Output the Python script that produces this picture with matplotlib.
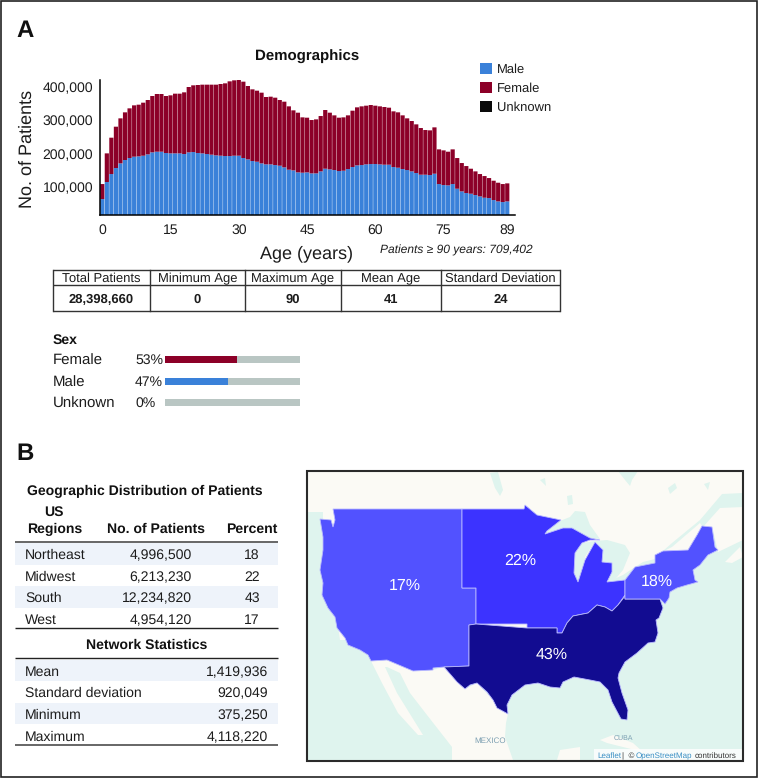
import matplotlib
matplotlib.use("Agg")
import matplotlib.pyplot as plt
import numpy as np
from matplotlib.patches import Polygon, Rectangle
from matplotlib.ticker import FuncFormatter

plt.rcParams['font.family'] = ['Liberation Sans', 'DejaVu Sans']
plt.rcParams['text.hinting'] = 'no_hinting'
plt.rcParams['text.hinting_factor'] = 1

# age histogram (thousands of patients)
total_k = [109,201,248,281,306,324,336,345,347,353,361,373,379,379,373,375,380,380,384,400,
           405,406,407,407,407,407,409,411,417,420,421,416,403,393,389,383,370,371,368,361,
           356,342,330,323,309,308,301,303,313,331,323,315,308,309,315,329,339,342,344,346,
           344,342,340,338,327,324,315,306,298,288,277,271,270,279,213,210,206,213,187,172,
           163,155,147,139,133,127,119,113,109,111]
male_k = [64,115,139,157,171,181,187,191,192,194,198,204,206,206,202,201,201,201,199,204,
          205,202,201,199,197,195,194,193,193,194,194,187,183,178,176,171,168,168,166,164,
          159,152,150,144,143,144,141,141,147,155,153,151,148,149,154,160,165,166,168,169,
          169,168,167,167,160,158,154,151,147,142,137,137,136,140,109,106,105,109,95,87,
          82,80,76,72,68,67,61,57,55,57]
y_ticks = [100000, 200000, 300000, 400000]
x_ticks = [0, 15, 30, 45, 60, 75, 89]

legend_names = ['Male', 'Female', 'Unknown']
summary_head = ['Total Patients', 'Minimum Age', 'Maximum Age', 'Mean Age', 'Standard Deviation']
summary_vals = ['28,398,660', '0', '90', '41', '24']
sex_names = ['Female', 'Male', 'Unknown']
sex_pct = [53, 47, 0]

regions = ['Northeast', 'Midwest', 'South', 'West']
region_pts = ['4,996,500', '6,213,230', '12,234,820', '4,954,120']
region_pct = ['18', '22', '43', '17']
stat_names = ['Mean', 'Standard deviation', 'Minimum', 'Maximum']
stat_vals = ['1,419,936', '920,049', '375,250', '4,118,220']

# map outlines in image pixels
west = [(333,509),(462,509),(462,588),(476,588),(476,624),(469,625),(469,666),(444,667),(433,668),(433,670),
        (413,671),(387,660),(371,661),(368,655),(360,650),(348,645),(345,638),(337,628),(335,617),(328,608),
        (322,595),(323,583),(320,570),(323,550),(323,537),(320,519),(331,520),(333,527),(335,520)]
midwest = [(462,509),(524,509),(525,505),(537,515),(561,520),(547,531),(545,534),(563,528),(572,528),(590,538),
           (600,540),(590,540),(582,543),(575,553),(574,573),(578,582),(585,560),(595,542),(603,550),(602,562),
           (612,563),(612,572),(607,582),(625,580),(625,595),(618,605),(612,611),(605,607),(597,605),(588,613),
           (573,616),(567,623),(562,633),(557,633),(557,628),(527,628),(527,624),(476,624),(476,588),(462,588)]
south = [(469,625),(476,624),(527,628),(557,628),(557,633),(562,633),(567,623),(573,616),(588,613),(597,605),
         (605,607),(612,611),(618,605),(625,596),(625,599),(660,599),(663,608),(659,618),(656,620),(658,633),
         (655,642),(648,643),(637,653),(625,662),(619,673),(618,678),(622,693),(628,710),(627,720),(621,719),
         (612,702),(608,690),(600,682),(590,680),(574,677),(563,682),(560,688),(550,687),(538,683),(525,685),
         (512,695),(507,705),(508,714),(497,708),(493,700),(487,692),(477,683),(470,685),(465,689),(457,682),
         (444,667),(469,666)]
northeast = [(625,580),(635,567),(655,563),(655,555),(663,551),(688,550),(697,535),(702,526),(712,527),(715,547),
             (718,550),(708,555),(700,565),(693,570),(695,580),(698,582),(687,585),(677,588),(670,592),(669,598),
             (665,604),(660,599),(625,599)]
canada = [(307,471),(743,471),(743,493),(722,494),(700,520),(672,543),(655,558),(640,600),(480,640),(340,640),
          (323,520),(323,512),(307,512)]
south_shore = [(660,553),(672,547),(700,523),(703,527),(697,537),(688,552)]
brunswick = [(703,527),(720,508),(743,507),(743,540),(718,552),(713,530)]
nova_scotia = [(725,562),(740,547),(743,557),(732,563)]
mexico = [(371,661),(387,660),(413,671),(433,670),(444,667),(465,689),(477,683),(493,700),(508,714),(506,723),
          (505,737),(513,760),(452,760),(452,747),(427,715),(410,693),(400,673),(387,667),(385,667),(397,693),
          (423,735),(418,735),(398,713),(382,683)]
yucatan = [(557,760),(560,750),(580,747),(580,760)]
cuba = [(600,740),(613,735),(633,743),(643,752),(623,747),(607,743)]
superior = [(545,534),(550,525),(570,517),(575,511),(585,512),(590,525),(600,539),(590,538),(572,528),(563,528)]
michigan = [(575,553),(582,543),(595,541),(585,557),(583,575),(578,582),(574,573)]
huron = [(595,541),(607,540),(625,545),(630,553),(623,570),(612,583),(607,582),(612,572),(612,563),(602,562),(603,550)]
erie = [(607,582),(623,575),(635,567),(625,580),(608,584)]
ontario = [(635,567),(643,562),(655,559),(655,563),(637,568)]
winnipeg = [(490,473),(498,472),(503,490),(500,496),(495,488)]
nipigon = [(567,496),(572,495),(573,504),(568,505)]
james_bay = [(618,471),(638,471),(632,480),(630,486),(625,480)]
small_lakes = [[(668,488),(675,483),(677,488),(670,494)], [(704,484),(710,482),(708,490)], [(540,480),(545,478),(546,486)]]

BLUE = '#3a81d9'
RED = '#8c0028'
GRAY = '#b9c6c3'
INK = '#1c1c1c'
W, H = 758, 778

fig = plt.figure(figsize=(W / 100, H / 100), dpi=100, facecolor='white')

# whole figure axes in image pixels, for tables and the map
bg = fig.add_axes([0, 0, 1, 1])
bg.set_xlim(0, W)
bg.set_ylim(H, 0)
bg.axis('off')


def put(x, y, s, size=10, weight='normal', ha='left', color=INK, **kw):
    kw.setdefault('va', 'center_baseline')
    bg.text(x, y, s, fontsize=size, fontweight=weight, ha=ha, color=color, **kw)


def rule(x0, x1, y, lw=1.0, color='#222222'):
    bg.plot([x0, x1], [y, y], color=color, lw=lw, solid_capstyle='butt')


# frame round the whole panel
bg.add_patch(Rectangle((0.7, 0.7), W - 1.4, H - 2, fill=False, ec='#222222', lw=1.2))

put(16, 28, 'A', 17, 'bold', color='#111111')
put(16, 451, 'B', 17, 'bold', color='#111111')

# histogram
ax = fig.add_axes([100 / W, 1 - 215 / H, 415 / W, 135 / H])
ax.patch.set_visible(False)
age = np.arange(len(total_k))
male = np.array(male_k) * 1000
female = (np.array(total_k) - np.array(male_k)) * 1000
ax.bar(age, male, width=0.92, color=BLUE, linewidth=0, snap=False)
ax.bar(age, female, width=0.92, bottom=male, color=RED, linewidth=0, snap=False)
ax.set_xlim(-0.5, 90.7)
ax.set_ylim(16200, 421000)
ax.set_xticks(x_ticks)
ax.set_yticks(y_ticks)
ax.yaxis.set_major_formatter(FuncFormatter(lambda v, p: f'{v:,.0f}'))
ax.tick_params(length=0, labelsize=10.4, labelcolor=INK, pad=5)
ax.tick_params(axis='x', pad=6)
ax.spines['top'].set_visible(False)
ax.spines['right'].set_visible(False)
ax.spines['left'].set_linewidth(1.1)
ax.spines['bottom'].set_linewidth(1.1)

put(307, 55, 'Demographics', 11, 'bold', ha='center', color='#111111')
put(27, 148.5, 'No. of Patients', 13.3, rotation=90, ha='center', va='center')
put(307, 252, 'Age (years)', 13.3, ha='center')
put(380, 249, 'Patients \u2265 90 years: 709,402', 8.7, style='italic')

for name, col, y in zip(legend_names, [BLUE, RED, '#0a0a0a'], [68.5, 87.5, 106.5]):
    bg.add_patch(Rectangle((480, y - 5.5), 11.5, 11, color=col, lw=0))
    put(497, y, name, 9.4)

# summary table
col_x = [53, 150, 245, 341, 441, 560]
for x in col_x:
    bg.plot([x, x], [270, 311], color='#333333', lw=1.0)
for y in [270, 285, 311]:
    rule(53, 560, y, 1.0, '#333333')
for i in range(len(summary_head)):
    mid = (col_x[i] + col_x[i + 1]) / 2
    put(mid, 277.5, summary_head[i], 9.4, ha='center')
    put(mid, 298, summary_vals[i], 9.4, 'bold', ha='center')

# sex bars
put(53, 339, 'Sex', 10, 'bold', color='#111111')
for name, pct, col, y in zip(sex_names, sex_pct, [RED, BLUE, GRAY], [359, 381, 402]):
    put(53, y, name, 10.6)
    put(135, y, f'{pct}%', 10.2)
    bg.add_patch(Rectangle((165, y - 3.5), 135, 7, color=GRAY, lw=0))
    bg.add_patch(Rectangle((165, y - 3.5), 135 * pct / 100, 7, color=col, lw=0))

# region table
put(145, 490, 'Geographic Distribution of Patients', 10, 'bold', ha='center', color='#111111')
put(54, 511, 'US', 10, 'bold', ha='center', color='#111111')
put(27, 528, 'Regions', 10, 'bold', color='#111111')
put(156, 528, 'No. of Patients', 10, 'bold', ha='center', color='#111111')
put(252, 528, 'Percent', 10, 'bold', ha='center', color='#111111')
rule(15, 278, 542, 1.4, '#666666')
row_y = [554, 576, 597, 619]
for i, y in enumerate(row_y):
    if i % 2 == 0:
        bg.add_patch(Rectangle((15, y - 11), 263, 21.6, color='#eef3fa', lw=0))
    put(25, y, regions[i], 10.4)
    put(192, y, region_pts[i], 10.4, ha='right')
    put(252, y, region_pct[i], 10.4, ha='center')
rule(15, 278, 628, 1.0)
put(147, 644, 'Network Statistics', 10, 'bold', ha='center', color='#111111')
rule(15, 278, 658, 1.0)
stat_y = [671, 692, 714, 736]
for i, y in enumerate(stat_y):
    if i % 2 == 0:
        bg.add_patch(Rectangle((15, y - 11.5), 263, 21.6, color='#eef3fa', lw=0))
    put(25, y, stat_names[i], 10.4)
    put(268, y, stat_vals[i], 10.4, ha='right')
rule(15, 278, 745, 1.4, '#666666')

# map
WATER = '#dff4ee'
LAND = '#fbfaf5'
bg.add_patch(Rectangle((307, 471), 436, 290, color=WATER, lw=0))
for shape in [canada, south_shore, brunswick, nova_scotia, mexico, yucatan, cuba]:
    bg.add_patch(Polygon(shape, closed=True, color=LAND, lw=0))
for shape in [superior, michigan, huron, erie, ontario, winnipeg, nipigon, james_bay] + small_lakes:
    bg.add_patch(Polygon(shape, closed=True, color=WATER, lw=0))
for shape, col in zip([west, midwest, south, northeast], ['#5252ff', '#3c33ff', '#120c91', '#5252ff']):
    bg.add_patch(Polygon(shape, closed=True, fc=col, ec='#b9b9ff', lw=0.6))
for x, y, s in [(405, 584, '17%'), (520, 559, '22%'), (552, 653, '43%'), (657, 580, '18%')]:
    put(x, y, s, 11.5, ha='center', color='white')
put(490, 740, 'MEXICO', 6, ha='center', color='#7c9fb2')
put(623, 737, 'CUBA', 5.4, ha='center', color='#7c9fb2')
bg.add_patch(Rectangle((594, 749), 149, 12, color='white', alpha=0.8, lw=0))
put(597, 755, 'Leaflet', 5.9, color='#3a8fc4')
put(622, 755, '|  \u00a9', 5.9, color='#333333')
put(636, 755, 'OpenStreetMap', 5.9, color='#3a8fc4')
put(695, 755, 'contributors', 5.9, color='#333333')
bg.add_patch(Rectangle((306.5, 471), 436.5, 290, fill=False, ec='#2a2a2a', lw=1.5))

fig.savefig('out.png', dpi=100)
